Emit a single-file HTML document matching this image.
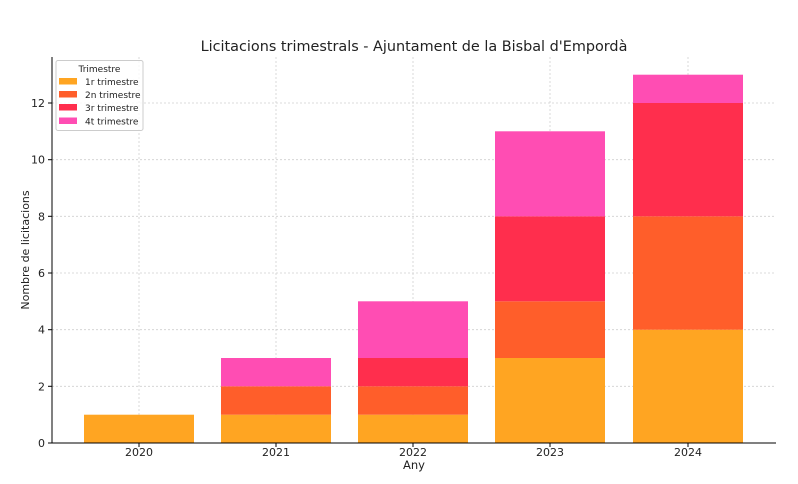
<!DOCTYPE html>
<html><head><meta charset="utf-8"><style>body{margin:0;background:#fff}svg{display:block}text{font-family:"DejaVu Sans","Liberation Sans",sans-serif;fill:#222}</style></head><body>
<svg width="798" height="484" viewBox="0 0 798 484">
<rect width="798" height="484" fill="#fff"/>
<text x="414" y="51" font-size="14.4" text-anchor="middle">Licitacions trimestrals - Ajuntament de la Bisbal d'Empordà</text>
<g stroke="#cfcfcf" stroke-width="0.8" stroke-dasharray="2,2">
<line x1="139" y1="57" x2="139" y2="443"/><line x1="276" y1="57" x2="276" y2="443"/><line x1="413" y1="57" x2="413" y2="443"/><line x1="550" y1="57" x2="550" y2="443"/><line x1="688" y1="57" x2="688" y2="443"/>
<line x1="52" y1="386.3" x2="776" y2="386.3"/><line x1="52" y1="329.7" x2="776" y2="329.7"/><line x1="52" y1="273" x2="776" y2="273"/><line x1="52" y1="216.3" x2="776" y2="216.3"/><line x1="52" y1="159.7" x2="776" y2="159.7"/><line x1="52" y1="103" x2="776" y2="103"/>
</g>
<g>
<rect x="84" y="414.7" width="110" height="28.3" fill="#FFA522"/>
<rect x="221" y="414.7" width="110" height="28.3" fill="#FFA522"/>
<rect x="221" y="386.3" width="110" height="28.4" fill="#FF5E2A"/>
<rect x="221" y="358" width="110" height="28.3" fill="#FF4DB3"/>
<rect x="358" y="414.7" width="110" height="28.3" fill="#FFA522"/>
<rect x="358" y="386.3" width="110" height="28.4" fill="#FF5E2A"/>
<rect x="358" y="358" width="110" height="28.3" fill="#FF2E4D"/>
<rect x="358" y="301.3" width="110" height="56.7" fill="#FF4DB3"/>
<rect x="495" y="358" width="110" height="85" fill="#FFA522"/>
<rect x="495" y="301.3" width="110" height="56.7" fill="#FF5E2A"/>
<rect x="495" y="216.3" width="110" height="85" fill="#FF2E4D"/>
<rect x="495" y="131.3" width="110" height="85" fill="#FF4DB3"/>
<rect x="633" y="329.7" width="110" height="113.3" fill="#FFA522"/>
<rect x="633" y="216.3" width="110" height="113.4" fill="#FF5E2A"/>
<rect x="633" y="103" width="110" height="113.3" fill="#FF2E4D"/>
<rect x="633" y="74.7" width="110" height="28.3" fill="#FF4DB3"/>
</g>
<g stroke="#000" stroke-width="1">
<line x1="52" y1="57" x2="52" y2="443.5"/><line x1="51.5" y1="443" x2="776" y2="443"/>
<line x1="48" y1="443" x2="52" y2="443"/><line x1="48" y1="386.3" x2="52" y2="386.3"/><line x1="48" y1="329.7" x2="52" y2="329.7"/><line x1="48" y1="273" x2="52" y2="273"/><line x1="48" y1="216.3" x2="52" y2="216.3"/><line x1="48" y1="159.7" x2="52" y2="159.7"/><line x1="48" y1="103" x2="52" y2="103"/>
<line x1="139" y1="443" x2="139" y2="447"/><line x1="276" y1="443" x2="276" y2="447"/><line x1="413" y1="443" x2="413" y2="447"/><line x1="550" y1="443" x2="550" y2="447"/><line x1="688" y1="443" x2="688" y2="447"/>
</g>
<g font-size="11" text-anchor="end">
<text x="45" y="447">0</text><text x="45" y="390.3">2</text><text x="45" y="333.7">4</text><text x="45" y="277">6</text><text x="45" y="220.3">8</text><text x="45" y="163.7">10</text><text x="45" y="107">12</text>
</g>
<g font-size="11" text-anchor="middle">
<text x="139" y="456">2020</text><text x="276" y="456">2021</text><text x="413" y="456">2022</text><text x="550" y="456">2023</text><text x="688" y="456">2024</text>
</g>
<text x="414" y="469" font-size="11.5" text-anchor="middle">Any</text>
<text x="0" y="0" font-size="11" text-anchor="middle" transform="translate(29,250) rotate(-90)">Nombre de licitacions</text>
<rect x="56" y="60.5" width="87" height="70" fill="#fff" fill-opacity="0.8" stroke="#ccc" rx="2"/>
<text x="99.5" y="72" font-size="9" text-anchor="middle">Trimestre</text>
<rect x="59" y="78" width="18" height="6.5" fill="#FFA522"/><text x="85" y="85" font-size="9">1r trimestre</text>
<rect x="59" y="91" width="18" height="6.5" fill="#FF5E2A"/><text x="85" y="98" font-size="9">2n trimestre</text>
<rect x="59" y="104" width="18" height="6.5" fill="#FF2E4D"/><text x="85" y="111" font-size="9">3r trimestre</text>
<rect x="59" y="117.5" width="18" height="6.5" fill="#FF4DB3"/><text x="85" y="124.5" font-size="9">4t trimestre</text>
</svg>
</body></html>
